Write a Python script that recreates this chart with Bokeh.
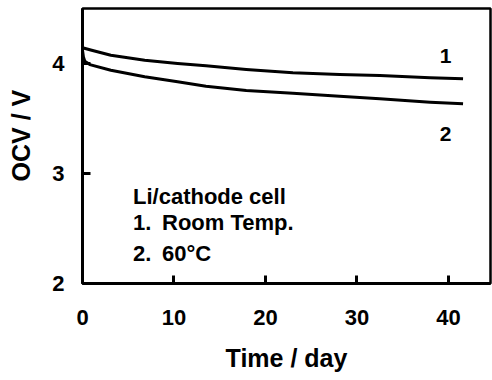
from bokeh.plotting import figure
from bokeh.models import Range1d, FixedTicker
from bokeh.core.properties import value
from bokeh.embed import file_html
from bokeh.resources import INLINE

# Curve 1: Room temperature
days_rt = [0, 1, 3.1, 6.8, 10.4, 13.5, 17.9, 23.0, 28.1, 32.5, 38.0, 41.6]
ocv_rt = [4.143, 4.12, 4.075, 4.03, 4.0, 3.979, 3.945, 3.915, 3.90, 3.891, 3.870, 3.861]
# Curve 2: 60 C
days_60 = [0, 0.1, 0.25, 0.8, 3.1, 6.8, 10.4, 13.5, 17.9, 23.0, 28.1, 32.5, 38.0, 41.6]
ocv_60 = [4.12, 4.06, 4.02, 3.99, 3.939, 3.879, 3.834, 3.794, 3.755, 3.730, 3.703, 3.679, 3.648, 3.634]

x_ticks = [0, 10, 20, 30, 40]
y_ticks = [2, 3, 4]

FONT = value("Liberation Sans")

p = figure(width=492, height=380, x_range=Range1d(0, 44.6), y_range=Range1d(2, 4.5),
           output_backend="svg", toolbar_location=None,
           min_border_left=82, min_border_right=2, min_border_top=8, min_border_bottom=97)
p.grid.visible = False
p.background_fill_color = "white"
p.border_fill_color = "white"
p.outline_line_color = "black"
p.outline_line_width = 2.5

p.xaxis.ticker = FixedTicker(ticks=x_ticks)
p.yaxis.ticker = FixedTicker(ticks=y_ticks)
for ax in (p.xaxis, p.yaxis):
    ax.axis_line_width = 3
    ax.axis_line_color = "black"
    ax.major_tick_in = 8
    ax.major_tick_out = 0
    ax.major_tick_line_width = 3
    ax.minor_tick_in = 0
    ax.minor_tick_out = 0
    ax.major_label_text_font = "Liberation Sans"
    ax.major_label_text_font_style = "bold"
    ax.major_label_text_font_size = "22px"
    ax.major_label_text_color = "black"
    ax.axis_label_text_font = "Liberation Sans"
    ax.axis_label_text_font_style = "bold"
    ax.axis_label_text_font_size = "25px"
    ax.axis_label_text_color = "black"

p.xaxis.major_label_standoff = 26
p.yaxis.major_label_standoff = 18
p.xaxis.axis_label_standoff = 16
p.yaxis.axis_label_standoff = 14
p.xaxis.axis_label = "Time / day"
p.yaxis.axis_label = "\u00a0\u00a0\u00a0OCV / V"

p.line(days_rt, ocv_rt, line_color="black", line_width=3, line_join="round")
p.line(days_60, ocv_60, line_color="black", line_width=3, line_join="round")

p.text(x=[39.7, 39.7], y=[4.07, 3.36], text=["1", "2"], text_font=FONT,
       text_font_style="bold", text_font_size="21px", text_align="center",
       text_baseline="middle", text_color="black")

p.text(x=[5.52], y=[2.791], text=["Li/cathode cell"], text_font=FONT,
       text_font_style="bold", text_font_size="22px", text_align="left",
       text_baseline="alphabetic", text_color="black")
p.text(x=[5.52, 5.52], y=[2.557, 2.275], text=["1.", "2."], text_font=FONT,
       text_font_style="bold", text_font_size="22px", text_align="left",
       text_baseline="alphabetic", text_color="black")
p.text(x=[8.69, 8.69], y=[2.557, 2.275], text=["Room Temp.", "60°C"], text_font=FONT,
       text_font_style="bold", text_font_size="22px", text_align="left",
       text_baseline="alphabetic", text_color="black")

open("out.html", "w").write(file_html(p, INLINE))
